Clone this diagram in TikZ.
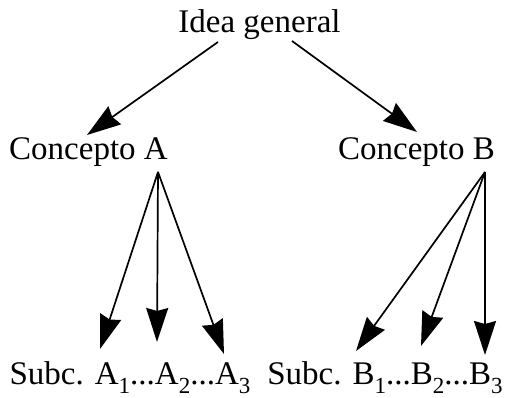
\documentclass[tikz,border=0pt]{standalone}
\usepackage{fontspec}
\setmainfont{Liberation Serif}
\usetikzlibrary{arrows.meta}
% lowered, smaller index digit
\newcommand{\idx}[1]{\raisebox{-0.27em}{\fontsize{23}{24}\selectfont #1}}
\tikzset{
  lbl/.style={anchor=base, inner sep=0pt, font=\fontsize{33}{36}\selectfont},
  arr/.style={line width=1.7pt, -{Stealth[length=34pt,width=22pt,inset=3pt]}}
}
\begin{document}
\begin{tikzpicture}[x=1pt,y=1pt]
\useasboundingbox (0,0) rectangle (506,398);
% texts
\node[lbl] (idea) at (259.5,365) {Idea general};
\node[lbl] (ca) at (88.5,238) {Concepto A};
\node[lbl] (cb) at (416.5,238) {Concepto B};
\node[lbl] (sa) at (130,13) {Subc. A\idx{1}...A\idx{2}...A\idx{3}};
\node[lbl] (sb) at (385,13) {Subc. B\idx{1}...B\idx{2}...B\idx{3}};
% first level
\draw[arr] ([shift={(-41.5,-9)}]idea.base) -- ([shift={(-1.5,25)}]ca.base);
\draw[arr] ([shift={(32.5,-8)}]idea.base) -- ([shift={(0.5,28)}]cb.base);
% second level, concept A
\draw[arr] ([shift={(69.5,-12)}]ca.base) -- ([shift={(-30,36)}]sa.base);
\draw[arr] ([shift={(69.5,-12)}]ca.base) -- ([shift={(27,43)}]sa.base);
\draw[arr] ([shift={(69.5,-12)}]ca.base) -- ([shift={(94,31)}]sa.base);
% second level, concept B
\draw[arr] ([shift={(68.5,-12)}]cb.base) -- ([shift={(-29,34)}]sb.base);
\draw[arr] ([shift={(68.5,-12)}]cb.base) -- ([shift={(36,39)}]sb.base);
\draw[arr] ([shift={(68.5,-12)}]cb.base) -- ([shift={(100,30)}]sb.base);
\end{tikzpicture}
\end{document}
